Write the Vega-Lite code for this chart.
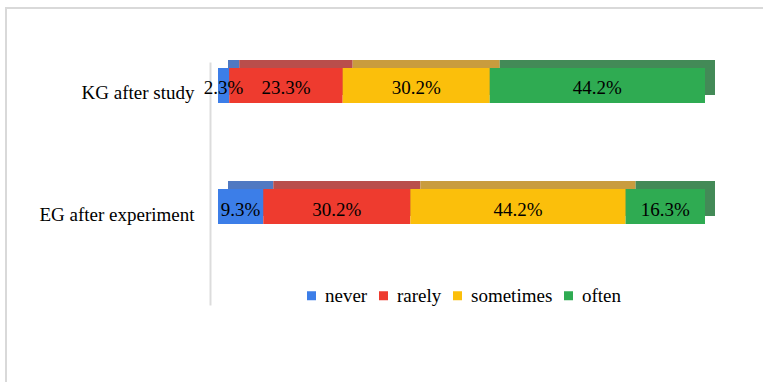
{
  "$schema": "https://vega.github.io/schema/vega-lite/v6.json",
  "width": 758,
  "height": 400,
  "autosize": {"type": "none"},
  "padding": {"left": 6, "top": 8, "right": 0, "bottom": 0},
  "background": "white",
  "config": {
    "view": {"stroke": "#d9d9d9", "strokeWidth": 2},
    "font": "Liberation Serif",
    "legend": {"labelFont": "Liberation Serif", "labelFontSize": 19, "labelColor": "#000000"},
    "text": {"font": "Liberation Serif"}
  },
  "data": {"values": [
    {"group": "KG after study", "response": "never", "k": 1, "pct": 2.3},
    {"group": "KG after study", "response": "rarely", "k": 2, "pct": 23.3},
    {"group": "KG after study", "response": "sometimes", "k": 3, "pct": 30.2},
    {"group": "KG after study", "response": "often", "k": 4, "pct": 44.2},
    {"group": "EG after experiment", "response": "never", "k": 1, "pct": 9.3},
    {"group": "EG after experiment", "response": "rarely", "k": 2, "pct": 30.2},
    {"group": "EG after experiment", "response": "sometimes", "k": 3, "pct": 44.2},
    {"group": "EG after experiment", "response": "often", "k": 4, "pct": 16.3}
  ]},
  "transform": [
    {"stack": "pct", "groupby": ["group"], "sort": [{"field": "k"}], "as": ["x0", "x1"]},
    {"calculate": "(datum.x0 + datum.x1) / 2", "as": "xm"},
    {"calculate": "format(datum.pct, '.1f') + '%'", "as": "lbl"}
  ],
  "encoding": {
    "y": {
      "field": "group", "type": "nominal",
      "sort": ["KG after study", "EG after experiment"],
      "scale": {"range": [54, 297], "paddingInner": 0.711, "paddingOuter": 0.3595, "align": 0.069},
      "axis": {"title": null, "ticks": false, "offset": -204, "domainColor": "#dcdcdc", "domainWidth": 2,
               "labelPadding": 16, "labelFontSize": 19, "labelColor": "#000000", "labelOffset": 8,
               "labelFont": "Liberation Serif"}
    }
  },
  "layer": [
    {
      "mark": {"type": "bar", "xOffset": 10, "x2Offset": 10, "yOffset": -8},
      "encoding": {
        "x": {"field": "x0", "type": "quantitative",
              "scale": {"domain": [0, 100], "range": [212, 699], "nice": false, "zero": false}, "axis": null},
        "x2": {"field": "x1"},
        "fill": {"field": "response", "type": "nominal",
                 "scale": {"domain": ["never", "rarely", "sometimes", "often"],
                           "range": ["#5079c2", "#b94e4b", "#c99c3e", "#438a57"]},
                 "legend": null}
      }
    },
    {
      "mark": {"type": "bar"},
      "encoding": {
        "x": {"field": "x0", "type": "quantitative"},
        "x2": {"field": "x1"},
        "color": {"field": "response", "type": "nominal",
                  "scale": {"domain": ["never", "rarely", "sometimes", "often"],
                            "range": ["#3c7ee8", "#ee3b2f", "#fbbf0b", "#2fab52"]},
                  "legend": {"orient": "none", "legendX": 296, "legendY": 278, "direction": "horizontal",
                             "title": null, "symbolType": "square", "symbolSize": 81, "labelFontSize": 19,
                             "labelFont": "Liberation Serif", "labelColor": "#000000", "columnPadding": 6,
                             "labelOffset": 4, "padding": 0, "symbolStrokeWidth": 0}}
      }
    },
    {
      "mark": {"type": "text", "dy": 3, "fontSize": 19, "font": "Liberation Serif", "color": "#000000"},
      "encoding": {
        "x": {"field": "xm", "type": "quantitative"},
        "text": {"field": "lbl"}
      }
    }
  ],
  "resolve": {"scale": {"color": "independent", "fill": "independent"}}
}
